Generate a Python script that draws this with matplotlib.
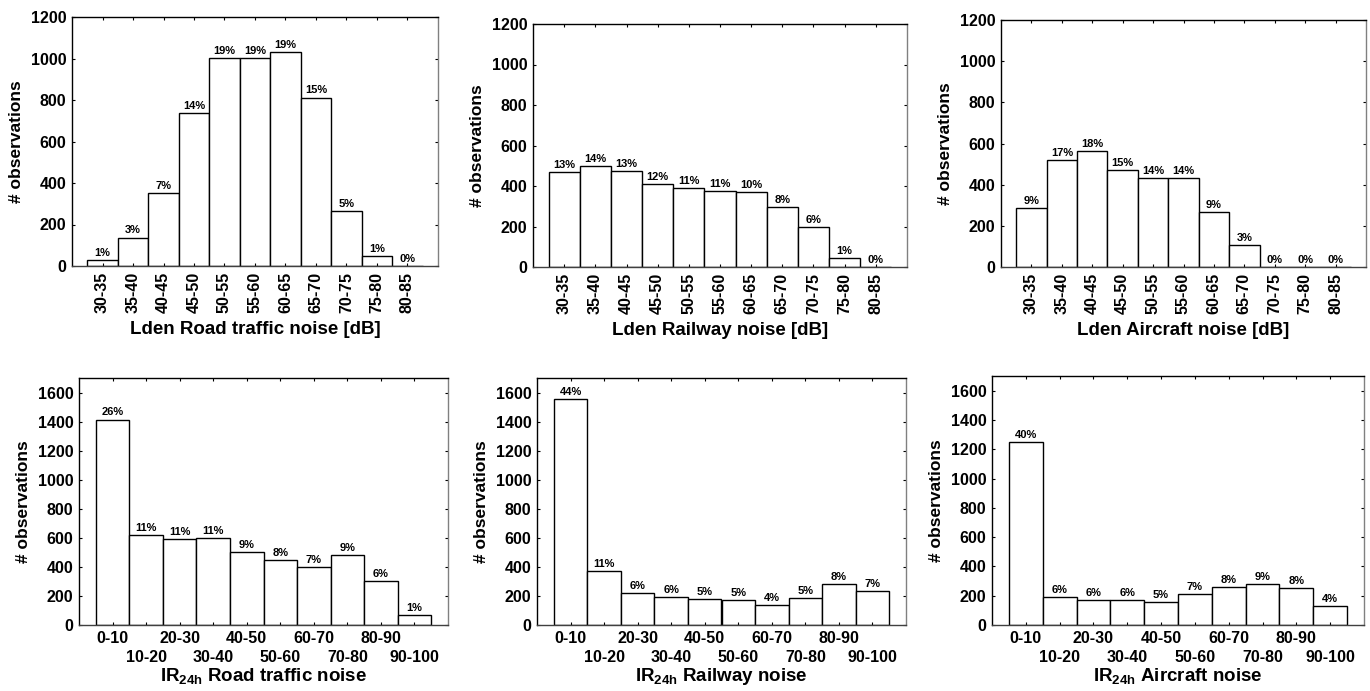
"""Histograms of Lden and IR24h noise exposure for road, railway and aircraft."""

import matplotlib.pyplot as plt

plt.rcParams["font.family"] = ["Liberation Sans", "DejaVu Sans"]
plt.rcParams["font.weight"] = "bold"
plt.rcParams["mathtext.fontset"] = "custom"
plt.rcParams["mathtext.rm"] = "Liberation Sans:bold"
plt.rcParams["mathtext.bf"] = "Liberation Sans:bold"

LDEN_BINS = ["30-35", "35-40", "40-45", "45-50", "50-55", "55-60",
             "60-65", "65-70", "70-75", "75-80", "80-85"]
IR_BINS = ["0-10", "10-20", "20-30", "30-40", "40-50",
           "50-60", "60-70", "70-80", "80-90", "90-100"]

# Lden counts and percentages
road_lden = [27, 137, 351, 735, 1002, 1004, 1031, 812, 265, 47, 2]
road_lden_pct = [1, 3, 7, 14, 19, 19, 19, 15, 5, 1, 0]
rail_lden = [467, 498, 473, 409, 390, 375, 370, 296, 196, 44, 2]
rail_lden_pct = [13, 14, 13, 12, 11, 11, 10, 8, 6, 1, 0]
air_lden = [287, 520, 564, 473, 433, 433, 269, 107, 1, 1, 1]
air_lden_pct = [9, 17, 18, 15, 14, 14, 9, 3, 0, 0, 0]

# IR24h counts and percentages
road_ir = [1414, 617, 594, 601, 500, 445, 401, 479, 305, 66]
road_ir_pct = [26, 11, 11, 11, 9, 8, 7, 9, 6, 1]
rail_ir = [1556, 374, 222, 195, 177, 170, 135, 183, 280, 232]
rail_ir_pct = [44, 11, 6, 6, 5, 5, 4, 5, 8, 7]
air_ir = [1252, 193, 173, 173, 159, 209, 262, 282, 250, 132]
air_ir_pct = [40, 6, 6, 6, 5, 7, 8, 9, 8, 4]

W, H = 1370, 691
# axes boxes in pixels: left, right, top, bottom
BOXES = [
    (72, 438, 17, 266),
    (533, 907, 24, 267),
    (1001, 1366, 20, 267),
    (79, 448, 378, 625),
    (537, 906, 378, 625),
    (992, 1364, 376, 625),
]

fig = plt.figure(figsize=(W / 100, H / 100), dpi=100)


def make_axes(box):
    l, r, t, b = box
    return fig.add_axes([l / W, 1 - b / H, (r - l) / W, (b - t) / H])


def style(ax, ymax, yticks):
    ax.set_ylim(0, ymax)
    ax.set_yticks(yticks)
    ax.tick_params(which="both", direction="in", length=2.5, width=0.8,
                   top=True, right=True, labelsize=11.5, pad=4)
    ax.spines["right"].set_color("#808080")
    ax.spines["bottom"].set_color("#404040")
    for s in ax.spines.values():
        s.set_linewidth(1.0)
    ax.set_ylabel("# observations", fontsize=12.5, fontweight="bold", labelpad=5)


def draw(ax, labels, values, pct):
    x = range(len(labels))
    bars = ax.bar(x, values, width=1.0, color="white", edgecolor="black",
                  linewidth=1.0)
    ax.bar_label(bars, labels=[f"{p}%" for p in pct], padding=1.5,
                 fontsize=8, fontweight="bold")


lden_sets = [
    (road_lden, road_lden_pct, "Lden Road traffic noise [dB]"),
    (rail_lden, rail_lden_pct, "Lden Railway noise [dB]"),
    (air_lden, air_lden_pct, "Lden Aircraft noise [dB]"),
]
ir_sets = [
    (road_ir, road_ir_pct, r"IR$_\mathrm{24h}$ Road traffic noise"),
    (rail_ir, rail_ir_pct, r"IR$_\mathrm{24h}$ Railway noise"),
    (air_ir, air_ir_pct, r"IR$_\mathrm{24h}$ Aircraft noise"),
]

for i, (vals, pct, xlabel) in enumerate(lden_sets):
    ax = make_axes(BOXES[i])
    draw(ax, LDEN_BINS, vals, pct)
    style(ax, 1200, range(0, 1201, 200))
    ax.set_xlim(-1, 11)
    ax.set_xticks(range(len(LDEN_BINS)))
    ax.set_xticklabels(LDEN_BINS, rotation=90)
    ax.set_xlabel(xlabel, fontsize=13.5, fontweight="bold", labelpad=6)

for i, (vals, pct, xlabel) in enumerate(ir_sets):
    ax = make_axes(BOXES[3 + i])
    draw(ax, IR_BINS, vals, pct)
    style(ax, 1700, range(0, 1601, 200))
    ax.set_xlim(-1, 10)
    # even bins on the first label row, odd bins on the second
    even = list(range(0, len(IR_BINS), 2))
    odd = list(range(1, len(IR_BINS), 2))
    ax.set_xticks(even)
    ax.set_xticklabels([IR_BINS[k] for k in even])
    ax.set_xticks(odd, minor=True)
    ax.set_xticklabels([IR_BINS[k] for k in odd], minor=True)
    ax.tick_params(axis="x", which="minor", pad=18)
    ax.set_xlabel(xlabel, fontsize=13.5, fontweight="bold", labelpad=1)

fig.savefig("out.png", dpi=100)
